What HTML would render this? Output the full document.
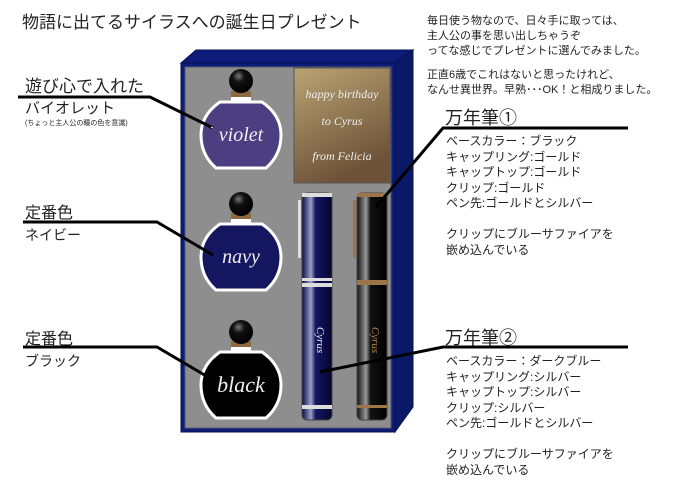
<!DOCTYPE html>
<html><head><meta charset="utf-8"><style>
html,body{margin:0;padding:0;background:#fff;width:688px;height:485px;overflow:hidden}
svg{display:block}
.jp{font-family:"Liberation Sans","Noto Sans CJK JP",sans-serif;fill:#222}
.sc{font-family:"Liberation Serif",serif;font-style:italic;fill:#eee}
</style></head><body>
<svg width="688" height="485" viewBox="0 0 688 485">
<defs>
<linearGradient id="card" x1="0" y1="0" x2="0.4" y2="1"><stop offset="0" stop-color="#b9a474"/><stop offset="1" stop-color="#6e5238"/></linearGradient>
<linearGradient id="pn" x1="0" x2="1"><stop offset="0" stop-color="#0b0b45"/><stop offset="0.3" stop-color="#9aa0c8"/><stop offset="0.45" stop-color="#141660"/><stop offset="1" stop-color="#050530"/></linearGradient>
<linearGradient id="pb" x1="0" x2="1"><stop offset="0" stop-color="#111"/><stop offset="0.3" stop-color="#999"/><stop offset="0.45" stop-color="#111"/><stop offset="1" stop-color="#000"/></linearGradient>
<radialGradient id="ball" cx="0.4" cy="0.3" r="0.7"><stop offset="0" stop-color="#777"/><stop offset="0.35" stop-color="#111"/><stop offset="1" stop-color="#000"/></radialGradient>
</defs>
<text x="22" y="28" class="jp" font-size="17">物語に出てるサイラスへの誕生日プレゼント</text>
<g class="jp" font-size="11">
<text x="427" y="24">毎日使う物なので、日々手に取っては、</text>
<text x="427" y="39">主人公の事を思い出しちゃうぞ</text>
<text x="427" y="54">ってな感じでプレゼントに選んでみました。</text>
<text x="427" y="78">正直6歳でこれはないと思ったけれど、</text>
<text x="427" y="93">なんせ異世界。早熟･･･OK！と相成りました。</text>
</g>
<!-- box -->
<polygon points="181,63 196,50 413,50 395,63" fill="#0d1c78" stroke="#061050"/>
<polygon points="395,63 413,50 413,407 395,432" fill="#0a1868" stroke="#061050"/>
<rect x="181" y="63" width="214" height="369" fill="#0d1c78" stroke="#061050"/>
<rect x="185" y="67" width="206" height="361" fill="#8e8e8e" stroke="#5a5a6a"/>
<!-- card -->
<rect x="294" y="68" width="96" height="115" fill="url(#card)" stroke="#555"/>
<text x="342" y="98" class="sc" font-size="12" text-anchor="middle">happy birthday</text>
<text x="342" y="125" class="sc" font-size="12" text-anchor="middle">to  Cyrus</text>
<text x="342" y="160" class="sc" font-size="12" text-anchor="middle">from  Felicia</text>
<!-- bottles -->
<g>
<path d="M220,102 L262,102 Q281,115 281,135 Q281,155 266,168 L216,168 Q201,155 201,135 Q201,115 220,102Z" fill="#4c3e80" stroke="#fff" stroke-width="3"/>
<rect x="231" y="91" width="20" height="6" fill="#8b6a40"/><rect x="231" y="97" width="20" height="5" fill="#fff"/>
<circle cx="241" cy="81" r="12" fill="url(#ball)"/>
<text x="241" y="141" class="sc" font-size="20" text-anchor="middle">violet</text>
</g>
<g>
<path d="M220,224 L262,224 Q281,237 281,257 Q281,277 266,290 L216,290 Q201,277 201,257 Q201,237 220,224Z" fill="#141660" stroke="#fff" stroke-width="3"/>
<rect x="231" y="213" width="20" height="6" fill="#8b6a40"/><rect x="231" y="219" width="20" height="5" fill="#fff"/>
<circle cx="241" cy="204" r="12" fill="url(#ball)"/>
<text x="241" y="263" class="sc" font-size="20" text-anchor="middle">navy</text>
</g>
<g>
<path d="M220,352 L262,352 Q281,365 281,385 Q281,405 266,418 L216,418 Q201,405 201,385 Q201,365 220,352Z" fill="#000" stroke="#fff" stroke-width="3"/>
<rect x="231" y="341" width="20" height="6" fill="#8b6a40"/><rect x="231" y="347" width="20" height="5" fill="#fff"/>
<circle cx="241" cy="332" r="12" fill="url(#ball)"/>
<text x="241" y="392" class="sc" font-size="22" text-anchor="middle">black</text>
</g>
<!-- pens -->
<rect x="302" y="193" width="30" height="227" rx="5" fill="url(#pn)" stroke="#444"/>
<rect x="302" y="193" width="30" height="4" fill="#ddd"/>
<rect x="302" y="278" width="30" height="3" fill="#ddd"/><rect x="302" y="283" width="30" height="4" fill="#ddd"/>
<rect x="302" y="405" width="30" height="4" fill="#ddd"/>
<rect x="298" y="200" width="3" height="58" fill="#ddd"/>
<text x="317" y="340" class="sc" font-size="11" transform="rotate(90 317 340)" text-anchor="middle">Cyrus</text>
<rect x="357" y="193" width="30" height="227" rx="5" fill="url(#pb)" stroke="#444"/>
<rect x="357" y="193" width="30" height="4" fill="#9c7548"/>
<rect x="357" y="280" width="30" height="5" fill="#9c7548"/>
<rect x="357" y="405" width="30" height="3" fill="#9c7548"/>
<rect x="353" y="200" width="3" height="58" fill="#9c7548"/>
<text x="372" y="340" font-family="Liberation Serif,serif" font-style="italic" fill="#b08850" font-size="11" transform="rotate(90 372 340)" text-anchor="middle">Cyrus</text>
<!-- leader lines -->
<g stroke="#000" stroke-width="3" fill="none">
<polyline points="18,97 150,97 213,128"/>
<polyline points="23,222 157,222 213,255"/>
<polyline points="23,347 157,347 213,380"/>
<polyline points="628,128 443,128 376,207"/>
<polyline points="628,347 443,347 320,372"/>
</g>
<g stroke="#fff" stroke-width="1" fill="none">
<line x1="213" y1="128" x2="211" y2="127"/>
</g>
<!-- left labels -->
<g class="jp">
<text x="25" y="92" font-size="17">遊び心で入れた</text>
<text x="25" y="113" font-size="15">バイオレット</text>
<text x="25" y="125" font-size="7">(ちょっと主人公の瞳の色を意識)</text>
<text x="25" y="218" font-size="16">定番色</text>
<text x="25" y="240" font-size="14">ネイビー</text>
<text x="25" y="344" font-size="16">定番色</text>
<text x="25" y="366" font-size="14">ブラック</text>
</g>
<!-- right labels -->
<g class="jp">
<text x="445" y="124" font-size="18">万年筆①</text>
<g font-size="12">
<text x="446" y="145">ベースカラー：ブラック</text>
<text x="446" y="161">キャップリング:ゴールド</text>
<text x="446" y="176">キャップトップ:ゴールド</text>
<text x="446" y="192">クリップ:ゴールド</text>
<text x="446" y="207">ペン先:ゴールドとシルバー</text>
<text x="446" y="238">クリップにブルーサファイアを</text>
<text x="446" y="254">嵌め込んでいる</text>
</g>
<text x="445" y="344" font-size="18">万年筆②</text>
<g font-size="12">
<text x="446" y="365">ベースカラー：ダークブルー</text>
<text x="446" y="381">キャップリング:シルバー</text>
<text x="446" y="396">キャップトップ:シルバー</text>
<text x="446" y="412">クリップ:シルバー</text>
<text x="446" y="427">ペン先:ゴールドとシルバー</text>
<text x="446" y="458">クリップにブルーサファイアを</text>
<text x="446" y="474">嵌め込んでいる</text>
</g>
</g>
</svg>
</body></html>
